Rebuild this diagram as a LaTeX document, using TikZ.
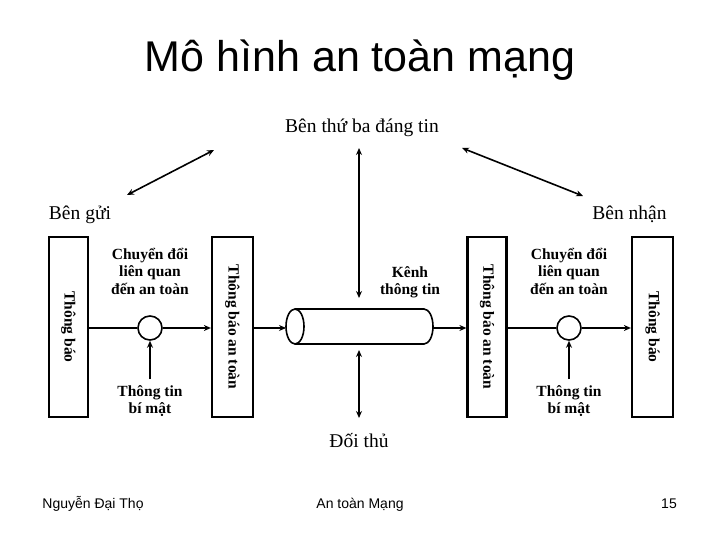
\documentclass[tikz,border=0pt]{standalone}
\usepackage{fontspec}
\setmainfont{Liberation Serif}
\newfontfamily\arialf{Liberation Sans}
\usetikzlibrary{arrows.meta}
\tikzset{
  box/.style={draw, line width=2.2pt, minimum width=39pt, minimum height=180pt, inner sep=0pt},
  vlab/.style={rotate=-90, font=\fontsize{15.5}{18}\selectfont\bfseries},
  lab/.style={align=center, font=\fontsize{15.5}{17.5}\selectfont\bfseries, inner sep=0pt},
  plain/.style={font=\fontsize{19.5}{22}\selectfont, inner sep=0pt, anchor=base},
  foot/.style={font=\arialf\fontsize{14}{16}\selectfont, inner sep=0pt, anchor=base},
  mix/.style={draw, circle, line width=1.6pt, minimum size=24pt, inner sep=0pt},
  arr/.style={line width=1.6pt, -{Stealth[length=7pt,width=6pt]}},
  darr/.style={line width=1.6pt, {Stealth[length=7pt,width=6pt]}-{Stealth[length=7pt,width=6pt]}},
  ln/.style={line width=1.6pt}
}
\begin{document}
\begin{tikzpicture}[x=1pt,y=-1pt]
\useasboundingbox (0,0) rectangle (720,540);
% title
\node[font=\arialf\fontsize{43}{48}\selectfont, inner sep=0pt] (title) at (360,60) {Mô hình an toàn mạng};
% parties
\node[plain] (ttp) at (362,133) {Bên thứ ba đáng tin};
\node[plain] (snd) at (80,219) {Bên gửi};
\node[plain] (rcv) at (629.5,219) {Bên nhận};
\node[plain] (adv) at (359,447) {Đối thủ};
% boxes
\node[box] (b1) at (68.5,327) {};
\node[vlab] at (b1) {Thông báo};
\node[box, minimum width=41pt] (b2) at (232.5,327) {};
\node[vlab] at (b2) {Thông báo an toàn};
\node[box] (b3) at (487,327) {};
\node[vlab] at (b3) {Thông báo an toàn};
\node[box, minimum width=41pt] (b4) at (652.5,327) {};
\node[vlab] at (b4) {Thông báo};
% mixers
\node[mix] (m1) at (150,328) {};
\node[mix] (m2) at (569,328) {};
\node[lab] (t1) at (150,271) {Chuyển đổi\\liên quan\\đến an toàn};
\node[lab] (t2) at (569,271) {Chuyển đổi\\liên quan\\đến an toàn};
\node[lab] (s1) at (150,401) {Thông tin\\bí mật};
\node[lab] (s2) at (569,401) {Thông tin\\bí mật};
\node[lab] (ch) at (410,282) {Kênh\\thông tin};
% cylinder
\coordinate (cl) at (286,328);
\coordinate (cr) at (433,328);
\draw[ln] (295,326.5) ellipse [x radius=9, y radius=17.5];
\draw[ln] (295,309) -- (424,309) arc[start angle=-90, end angle=90, x radius=9, y radius=17.5] -- (295,344);
% flow
\draw[ln] (b1.east |- m1) -- (m1.west);
\draw[arr] (m1.east) -- (b2.west |- m1);
\draw[arr] (b2.east |- cl) -- (cl);
\draw[arr] (cr) -- (b3.west |- cr);
\draw[ln] (b3.east |- m2) -- (m2.west);
\draw[arr] (m2.east) -- (b4.west |- m2);
\draw[arr] (s1.north) ++(0,-6) -- (m1.south);
\draw[arr] (s2.north) ++(0,-6) -- (m2.south);
% third party / adversary
\coordinate (v1) at (359,148);
\coordinate (v2) at (359,298);
\coordinate (v3) at (359,350);
\coordinate (v4) at (359,418);
\draw[darr] (v1) -- (v2);
\draw[darr] (v3) -- (v4);
\coordinate (l1) at (127,195);
\coordinate (l2) at (214,150);
\coordinate (r1) at (462,148);
\coordinate (r2) at (583,196);
\draw[darr] (l1) -- (l2);
\draw[darr] (r1) -- (r2);
% footer
\node[foot] (f1) at (93,508) {Nguyễn Đại Thọ};
\node[foot] (f2) at (360,508) {An toàn Mạng};
\node[foot, anchor=base east] (f3) at (677,508) {15};
\end{tikzpicture}
\end{document}
